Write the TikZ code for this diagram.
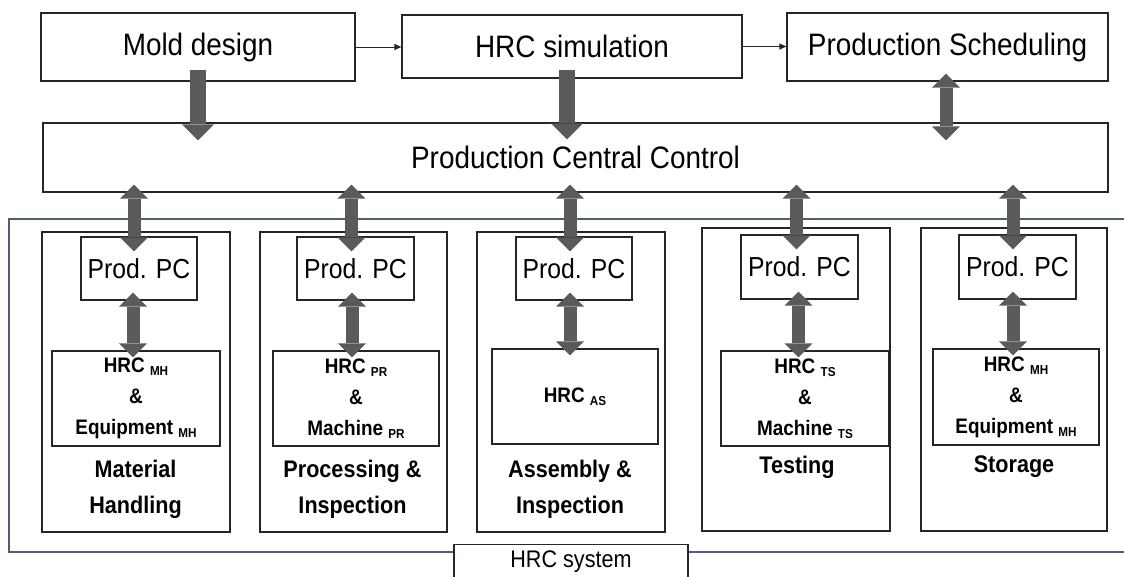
\documentclass[tikz,border=0pt]{standalone}
\usepackage{fontspec}
\setmainfont{Liberation Sans}[FakeStretch=0.9]
\usetikzlibrary{arrows.meta,calc}
\definecolor{boxc}{HTML}{262626}
\definecolor{arrowc}{HTML}{5A5A5A}
\definecolor{framec}{HTML}{4E5E76}
\newcommand{\sbs}[1]{\raisebox{-3pt}{\fontsize{13}{13}\selectfont #1}}
\tikzset{
  bigtip/.tip={Triangle[length=16pt,width=32pt,line width=0pt]},
  smalltip/.tip={Triangle[length=14pt,width=28pt,line width=0pt]},
}
\begin{document}
\begin{tikzpicture}[x=1pt,y=-1pt,
  box/.style={draw=boxc, line width=1.2pt, fill=white, inner sep=0pt, text=black},
  topbox/.style={box, font=\fontsize{31}{36}\selectfont},
  pcbox/.style={box, minimum width=116pt, minimum height=63pt, font=\fontsize{27.5}{32}\selectfont},
  hrcbox/.style={box, minimum height=95pt, align=center, font=\fontsize{21}{31}\selectfont\bfseries},
  secbox/.style={box, minimum width=188pt},
  seclabel/.style={align=center, inner sep=0pt, font=\fontsize{24}{36}\selectfont\bfseries},
  thinarrow/.style={draw=boxc, line width=1pt, -{Triangle[length=7pt,width=6pt]}},
  bigarrow/.style={draw=arrowc, line width=16pt, -bigtip},
  dblarrow/.style={draw=arrowc, line width=13pt, smalltip-smalltip},
]
\path[use as bounding box, clip] (0,0) rectangle (1124,576);

% top row
\node[topbox, minimum width=314pt, minimum height=68pt] (mold) at (198,47) {Mold design};
\node[topbox, minimum width=340pt, minimum height=63pt] (hrcsim) at (572,46.5) {HRC simulation};
\node[topbox, minimum width=321pt, minimum height=68pt] (ps) at (947.5,47) {Production Scheduling};
\node[topbox, minimum width=1065pt, minimum height=69pt] (pcc) at (575.5,157.5) {Production Central Control};

% HRC system frame
\draw[framec, line width=2.5pt] (1130,219) -- (9,219) -- (9,552) -- (1130,552);

% sector boxes
\node[secbox, minimum height=300pt] (s1) at (136,382) {};
\node[secbox, minimum height=300pt, minimum width=187pt] (s2) at (353.5,382) {};
\node[secbox, minimum height=300pt] (s3) at (571,382) {};
\node[secbox, minimum height=303pt] (s4) at (796,379.5) {};
\node[secbox, minimum height=303pt, minimum width=186pt] (s5) at (1014,379.5) {};

% production PCs
\node[pcbox] (p1) at (139,268.5) {Prod. PC};
\node[pcbox, minimum width=117pt] (p2) at (355.5,268.5) {Prod. PC};
\node[pcbox] (p3) at (574,268.5) {Prod. PC};
\node[pcbox, minimum width=117pt, minimum height=64pt] (p4) at (799.5,267) {Prod. PC};
\node[pcbox, minimum width=117pt, minimum height=64pt] (p5) at (1017.5,267) {Prod. PC};

% HRC boxes
\node[hrcbox, minimum width=168pt] (h1) at (136,398.5) {HRC \sbs{MH}\\\&\\Equipment \sbs{MH}};
\node[hrcbox, minimum width=166pt] (h2) at (356,398.5) {HRC \sbs{PR}\\\&\\Machine \sbs{PR}};
\node[hrcbox, minimum width=166pt] (h3) at (575,396.5) {HRC \sbs{AS}};
\node[hrcbox, minimum width=168pt] (h4) at (805,398.5) {HRC \sbs{TS}\\\&\\Machine \sbs{TS}};
\node[hrcbox, minimum width=166pt, minimum height=96pt] (h5) at (1016,397) {HRC \sbs{MH}\\\&\\Equipment \sbs{MH}};

% sector labels
\node[seclabel] (l1) at (135.5,489) {Material\\Handling};
\node[seclabel] (l2) at (352.5,489) {Processing \&\\Inspection};
\node[seclabel] (l3) at (570,489) {Assembly \&\\Inspection};
\node[seclabel] (l4) at (797,467) {Testing};
\node[seclabel] (l5) at (1014,467) {Storage};

% HRC system label
\node[box, minimum width=234pt, minimum height=35pt, anchor=north, font=\fontsize{24}{28}\selectfont] (sys) at (571,544) {HRC system};

% thin arrows
\draw[thinarrow] (mold.east) -- (mold.east -| hrcsim.west);
\draw[thinarrow] (hrcsim.east) -- (hrcsim.east -| ps.west);

% big arrows to central control
\draw[bigarrow] ($(mold.south)+(0,-12)$) -- ($(mold.south |- pcc.north)+(0,18)$);
\draw[bigarrow] ($(hrcsim.south)+(-5,-9)$) -- ($(hrcsim.south |- pcc.north)+(-5,17)$);
\draw[dblarrow] ($(ps.south)+(-1.5,-8)$) -- ($(ps.south |- pcc.north)+(-1.5,18)$);

% central control <-> prod PCs
\draw[dblarrow] ($(p1.north |- pcc.south)+(-5,-8)$) -- ($(p1.north)+(-5,15)$);
\draw[dblarrow] ($(p2.north |- pcc.south)+(-4,-8)$) -- ($(p2.north)+(-4,15)$);
\draw[dblarrow] ($(p3.north |- pcc.south)+(-4,-8)$) -- ($(p3.north)+(-4,15)$);
\draw[dblarrow] ($(p4.north |- pcc.south)+(-3,-8)$) -- ($(p4.north)+(-3,15)$);
\draw[dblarrow] ($(p5.north |- pcc.south)+(-4.5,-8)$) -- ($(p5.north)+(-4.5,15)$);

% prod PCs <-> HRC
\draw[dblarrow] ($(p1.south)+(-6,-8)$) -- ($(p1.south |- h1.north)+(-6,7)$);
\draw[dblarrow] ($(p2.south)+(-3.5,-8)$) -- ($(p2.south |- h2.north)+(-3.5,7)$);
\draw[dblarrow] ($(p3.south)+(-4,-8)$) -- ($(p3.south |- h3.north)+(-4,7)$);
\draw[dblarrow] ($(p4.south)+(-1,-8)$) -- ($(p4.south |- h4.north)+(-1,7)$);
\draw[dblarrow] ($(p5.south)+(-4.5,-8)$) -- ($(p5.south |- h5.north)+(-4.5,7)$);
\end{tikzpicture}
\end{document}
